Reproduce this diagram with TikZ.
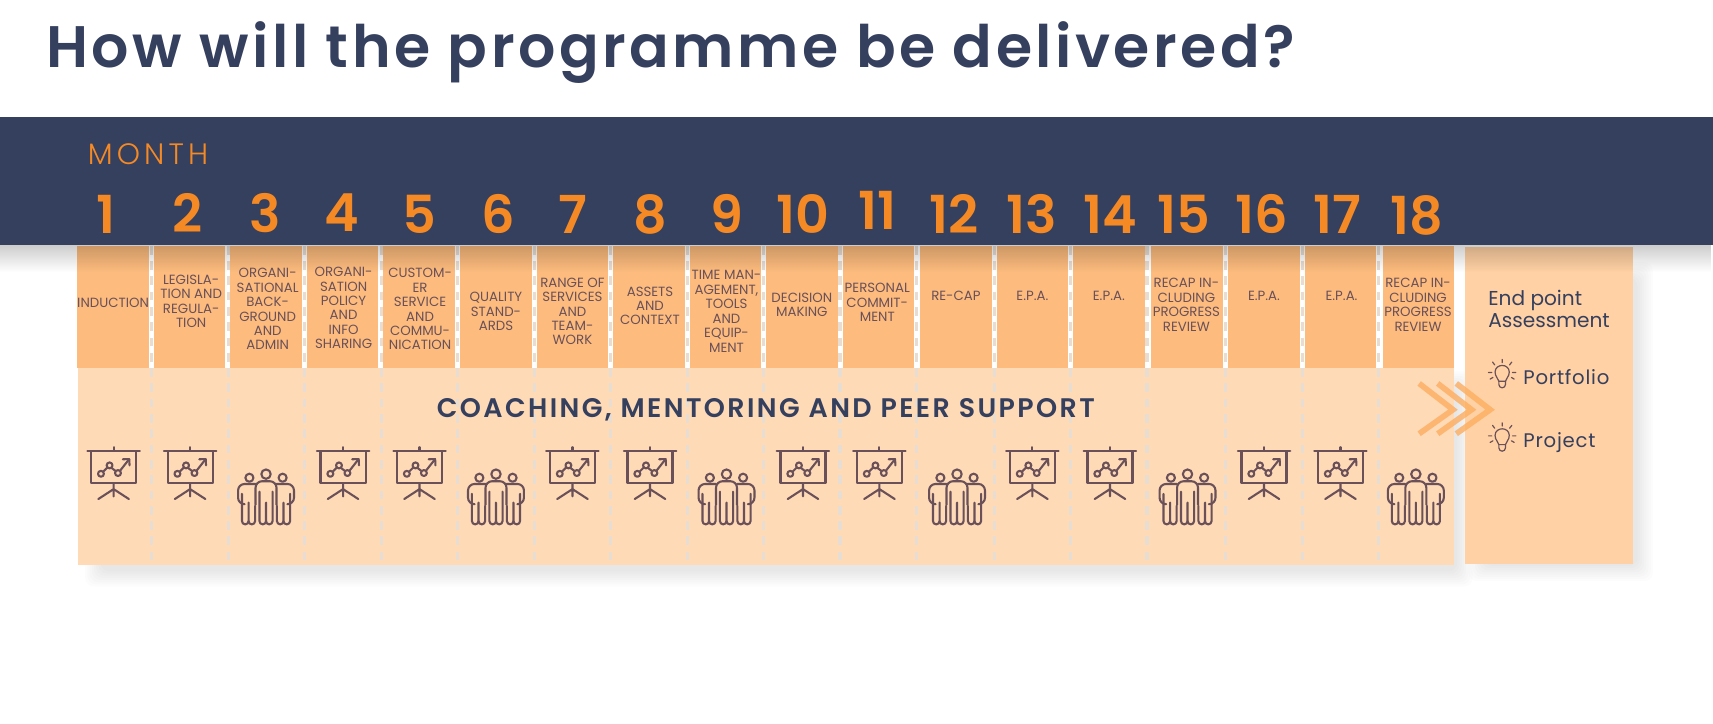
\documentclass[tikz,border=0pt]{standalone}
\usepackage{fontspec}
\usetikzlibrary{fadings}
\setmainfont{Poppins}
\newfontfamily\titlefont[LetterSpace=6]{Poppins SemiBold}
\newfontfamily\headfont[LetterSpace=9]{Poppins SemiBold}
\newfontfamily\numfont{Poppins SemiBold}
\newfontfamily\lightfont[LetterSpace=14]{Poppins Light}
\newfontfamily\cellfont{Poppins}
\newfontfamily\endfont[LetterSpace=4]{Poppins}

\definecolor{navy}{HTML}{353F5E}
\definecolor{digit}{HTML}{F58A25}
\definecolor{cell}{HTML}{FDBC7E}
\definecolor{panel}{HTML}{FFDAB6}
\definecolor{endbox}{HTML}{FFD1A4}
\definecolor{ink}{HTML}{6A5058}
\definecolor{gapline}{HTML}{E8DDD3}
\definecolor{chev}{HTML}{FDAD60}

\tikzset{
  cellbox/.style={fill=cell,minimum width=32.75pt,minimum height=56pt,inner sep=0pt,outer sep=0pt},
  celltext/.style={text=ink,align=center,inner sep=0pt,yshift=-.5pt,font=\cellfont\fontsize{6.1}{6.6}\selectfont},
  monthnum/.style={text=digit,inner sep=0pt,font=\numfont\fontsize{24}{24}\selectfont},
  endtext/.style={text=navy,anchor=base west,inner sep=0pt,font=\endfont\fontsize{9}{10}\selectfont},
  icon/.style={draw=ink,line width=.95pt,line cap=round,line join=round},
  softshadow/.style={fill=black,fill opacity=.012,rounded corners=4pt},
  pics/board/.style={code={
    \draw[icon] (-24,-17.4) -- (24,-17.4) (0,-17.4) -- (0,-20.7);
    \draw[icon] (-20.6,-17.4) rectangle (20.6,12.2);
    \draw[icon] (0,12.2) -- (0,24.4) (-14,26.8) -- (0,17.7) -- (14,26.8);
    \draw[icon] (-11.6,3.7) circle (2.7) (-3.7,-4) circle (2.7) (4,3) circle (2.7);
    \draw[icon] (-9.6,1.8) -- (-5.7,-2.1) (-2,-1.8) -- (1.9,1.2) (5.8,1) -- (14.3,-9.8);
    \draw[icon] (8.4,-9.6) -- (14.3,-9.8) -- (14.6,-4);
  }},
  pics/team/.style={code={
    \draw[icon] (-15.2,-17.7) circle (3.7) (0,-21) circle (4.3) (15.2,-17.7) circle (3.7);
    \draw[icon,rounded corners=3pt] (-9.6,7) -- (-9.6,-14.5) -- (9.6,-14.5) -- (9.6,7);
    \draw[icon] (-6,-5) -- (-6,22) arc[start angle=180,end angle=0,radius=3] -- (0,5);
    \draw[icon] (0,22) arc[start angle=180,end angle=0,radius=3] -- (6,-5);
    \draw[icon,rounded corners=3pt] (-9.6,-12) -- (-25.6,-12) -- (-25.6,6.5) -- (-22,6.5);
    \draw[icon] (-22,-3) -- (-22,22) arc[start angle=180,end angle=0,radius=3] -- (-16,5);
    \draw[icon] (-16,22) arc[start angle=180,end angle=0,radius=3] -- (-10,8);
    \draw[icon,rounded corners=3pt] (9.6,-12) -- (25.6,-12) -- (25.6,6.5) -- (22,6.5);
    \draw[icon] (22,-3) -- (22,22) arc[start angle=0,end angle=180,radius=3] -- (16,5);
    \draw[icon] (16,22) arc[start angle=0,end angle=180,radius=3] -- (10,8);
  }},
  pics/bulb/.style={code={
    \draw[draw=ink,line width=.55pt,line cap=round,line join=round]
      (-3,6) .. controls (-3.5,3) and (-6.5,2) .. (-6.5,-2.5)
      .. controls (-6.5,-6.5) and (-3,-8.5) .. (0,-8.5)
      .. controls (3,-8.5) and (6.5,-6.5) .. (6.5,-2.5)
      .. controls (6.5,2) and (3.5,3) .. (3,6) -- cycle;
    \draw[draw=ink,line width=.55pt,line cap=round] (-3,6) -- (-3,9) arc[start angle=180,end angle=0,radius=3] -- (3,6);
    \draw[draw=ink,line width=.55pt,line cap=round]
      (0,-11) -- (0,-14) (-6.8,-9) -- (-8.8,-11.6) (6.8,-9) -- (8.8,-11.6)
      (-9.5,-2) -- (-12.5,-2) (9.5,-2) -- (12.5,-2)
      (-8.5,2.5) -- (-11,4) (8.5,2.5) -- (11,4);
  }}
}

\begin{document}
\begin{tikzpicture}[x=.5pt,y=-.5pt]

\useasboundingbox[fill=white] (0,0) rectangle (1568,662.7);

% Soft shadows
\foreach \s in {0,2,...,14} {
  \fill[softshadow] (78+\s,340+\s) rectangle (1348-\s,537-\s);
  \fill[softshadow] (1344+\s,240+\s) rectangle (1513-\s,532-\s);
}

% Panel below the topics
\node[fill=panel,minimum width=630pt,minimum height=90pt,inner sep=0pt] (panel) at (701,427) {};
\foreach \x in {139,209,279,349,419,489,559,629,699,769,839,910,980,1050,1122,1192,1262} {
  \draw[gapline,line width=1.5pt,dash pattern=on 4pt off 3pt] (\x,225) -- (\x,517);
}

% Topic cells
\foreach \n/\x in {1/103.5,2/173.5,3/243.5,4/313.5,5/383.5,6/454,7/524,8/594,9/664,10/734,11/804,12/875,13/945,14/1015,15/1086.5,16/1157,17/1227,18/1298.5} {
  \node[cellbox] (cell\n) at (\x,281) {};
}

% End box
\node[fill=endbox,minimum width=77pt,minimum height=145pt,inner sep=0pt] (endbox) at (1418,371) {};

% Header band and its shadow
\fill[black,fill opacity=.2,path fading=south] (0,224) rectangle (1568,249);
\node[fill=navy,minimum width=784pt,minimum height=58.5pt,inner sep=0pt,anchor=north west] (band) at (0,107) {};

% Title
\node[text=navy,anchor=base west,inner sep=0pt,font=\titlefont\fontsize{26.8}{27}\selectfont] (title) at (42,62) {How will the programme be delivered?};
\node[text=digit,anchor=base west,inner sep=0pt,font=\lightfont\fontsize{13.5}{14}\selectfont] (month) at (80,151) {MONTH};

% Month numbers
\node[monthnum] (n1) at (97,196) {1};
\node[monthnum] (n2) at (172,195) {2};
\node[monthnum] (n3) at (243,195) {3};
\node[monthnum] (n4) at (313,195) {4};
\node[monthnum] (n5) at (384,196) {5};
\node[monthnum] (n6) at (456,196) {6};
\node[monthnum] (n7) at (524,196) {7};
\node[monthnum] (n8) at (595,196) {8};
\node[monthnum] (n9) at (665,196) {9};
\node[monthnum] (n10) at (735,196) {10};
\node[monthnum] (n11) at (803,193) {11};
\node[monthnum] (n12) at (873,196) {12};
\node[monthnum] (n13) at (944,196) {13};
\node[monthnum] (n14) at (1016,196) {14};
\node[monthnum] (n15) at (1084,196) {15};
\node[monthnum] (n16) at (1155,196) {16};
\node[monthnum] (n17) at (1224,196) {17};
\node[monthnum] (n18) at (1297,197) {18};

% Topic texts
\node[celltext] (t1) at (103.5,276) {INDUCTION};
\node[celltext] (t2) at (175,275) {LEGISLA-\\TION AND\\REGULA-\\TION};
\node[celltext] (t3) at (245,282) {ORGANI-\\SATIONAL\\BACK-\\GROUND\\AND\\ADMIN};
\node[celltext] (t4) at (314.5,281) {ORGANI-\\SATION\\POLICY\\AND\\INFO\\SHARING};
\node[celltext] (t5) at (384.5,282) {CUSTOM-\\ER\\SERVICE\\AND\\COMMU-\\NICATION};
\node[celltext] (t6) at (454,284) {QUALITY\\STAND-\\ARDS};
\node[celltext] (t7) at (524,284) {RANGE OF\\SERVICES\\AND\\TEAM-\\WORK};
\node[celltext] (t8) at (595,279) {ASSETS\\AND\\CONTEXT};
\node[celltext] (t9) at (665,284) {TIME MAN-\\AGEMENT,\\TOOLS\\AND\\EQUIP-\\MENT};
\node[celltext] (t10) at (734,278) {DECISION\\MAKING};
\node[celltext] (t11) at (803,276) {PERSONAL\\COMMIT-\\MENT};
\node[celltext] (t12) at (875,270) {RE-CAP};
\node[celltext] (t13) at (945,270) {E.P.A.};
\node[celltext] (t14) at (1015,270) {E.P.A.};
\node[celltext] (t15) at (1086,278) {RECAP IN-\\CLUDING\\PROGRESS\\REVIEW};
\node[celltext] (t16) at (1157,270) {E.P.A.};
\node[celltext] (t17) at (1228,270) {E.P.A.};
\node[celltext] (t18) at (1298,278) {RECAP IN-\\CLUDING\\PROGRESS\\REVIEW};

% Coaching line
\node[text=navy,anchor=base,inner sep=0pt,font=\headfont\fontsize{12.3}{12}\selectfont] (coach) at (701,382) {COACHING, MENTORING AND PEER SUPPORT};

% Icons
\foreach \x in {104,174,314,384,524,595,735,805,945,1016,1157,1227} {
  \pic at (\x,430) {board};
}
\foreach \x in {243.5,454,665,876,1087,1296} {
  \pic at (\x,455) {team};
}

% Chevrons
\foreach \x in {1330,1347,1364} {
  \draw[chev,opacity=.8,line width=2.6pt] (\x-31,351) -- (\x,375) -- (\x-31,397);
}

% End point assessment
\node[endtext,font=\cellfont\fontsize{9.2}{10}\selectfont,anchor=base west,align=left] (endpoint) at (1362,300) {End point\\Assessment};
\pic at (1375,343) {bulb};
\node[endtext] (portfolio) at (1394,351.5) {Portfolio};
\pic at (1375,401) {bulb};
\node[endtext] (project) at (1394,409.5) {Project};

\end{tikzpicture}
\end{document}
